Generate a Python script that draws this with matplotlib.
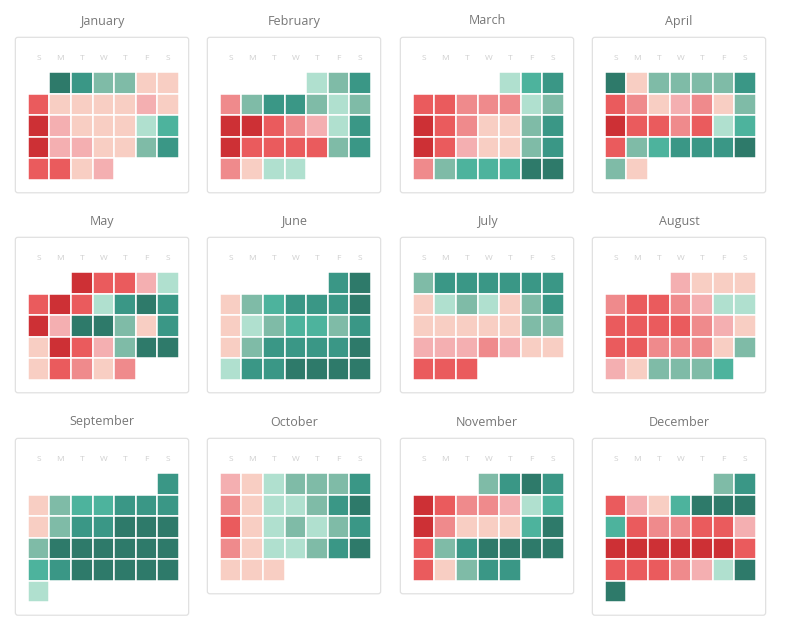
import matplotlib
matplotlib.use("Agg")
import matplotlib.pyplot as plt
from matplotlib.colors import ListedColormap, Normalize
from matplotlib.patches import Rectangle, FancyBboxPatch

plt.rcParams['font.family'] = ['Open Sans', 'DejaVu Sans']

months = ["January", "February", "March", "April", "May", "June",
          "July", "August", "September", "October", "November", "December"]
weekdays = ["S", "M", "T", "W", "T", "F", "S"]
# weekday of the 1st (0 = Sunday) as laid out in the chart
start_days = [1, 4, 4, 0, 2, 5, 0, 3, 6, 0, 3, 5]

# daily levels, 0 = worst (dark red) ... 9 = best (dark teal)
jan = [9, 8, 6, 6, 4, 4, 1, 4, 4, 4, 4, 3, 4, 0, 3, 4, 4, 4, 5, 7,
       0, 3, 3, 4, 4, 6, 8, 1, 1, 4, 3]
feb = [5, 6, 8, 2, 6, 8, 8, 6, 5, 6, 0, 0, 1, 2, 3, 5, 8,
       0, 1, 1, 1, 1, 6, 8, 2, 4, 5, 5]
mar = [5, 7, 8, 1, 1, 2, 2, 2, 5, 6, 0, 1, 2, 4, 4, 6, 8,
       0, 1, 3, 4, 4, 6, 8, 2, 6, 7, 7, 7, 9, 9]
apr = [9, 4, 6, 6, 6, 6, 8, 1, 2, 4, 3, 2, 4, 6, 0, 1, 1, 2, 1, 5, 7,
       1, 6, 7, 8, 8, 8, 9, 6, 4]
may = [0, 1, 1, 3, 5, 1, 0, 1, 5, 8, 9, 8, 0, 3, 9, 9, 6, 4, 8,
       4, 0, 1, 3, 6, 9, 9, 4, 1, 2, 4, 2]
jun = [8, 9, 4, 6, 7, 8, 8, 8, 9, 4, 5, 6, 7, 7, 6, 8,
       4, 6, 8, 8, 8, 8, 9, 5, 8, 8, 9, 9, 9, 9]
jul = [6, 8, 8, 8, 8, 8, 8, 4, 5, 6, 5, 4, 6, 8, 4, 4, 4, 4, 4, 6, 6,
       3, 3, 3, 2, 3, 4, 4, 1, 1, 1]
aug = [3, 4, 4, 4, 2, 1, 1, 2, 3, 5, 5, 1, 1, 1, 1, 2, 3, 4,
       1, 1, 2, 2, 2, 4, 6, 3, 4, 6, 6, 6, 7]
sep = [8, 4, 6, 7, 7, 8, 8, 8, 4, 6, 8, 8, 9, 9, 9, 6, 9, 9, 9, 9, 9, 9,
       7, 8, 9, 9, 9, 9, 9, 5]
oct_ = [3, 4, 5, 6, 6, 6, 8, 2, 4, 5, 5, 6, 8, 9, 1, 4, 5, 6, 5, 6, 8,
        2, 4, 5, 5, 6, 8, 9, 4, 4, 4]
nov = [6, 8, 9, 8, 0, 1, 2, 2, 3, 5, 7, 0, 2, 4, 4, 4, 7, 9,
       1, 6, 8, 9, 9, 9, 9, 1, 4, 6, 8, 8]
dec = [6, 8, 1, 3, 4, 7, 9, 9, 9, 7, 1, 2, 2, 1, 1, 3,
       0, 0, 0, 0, 0, 0, 1, 1, 1, 1, 2, 3, 5, 9, 9]
values = [jan, feb, mar, apr, may, jun, jul, aug, sep, oct_, nov, dec]

palette = ['#cd3035', '#ea5b5d', '#ef8a8c', '#f4afb1', '#f8cec3',
           '#b0e0cf', '#7fbba7', '#4db39d', '#3a9786', '#2e7a6a']
cmap = ListedColormap(palette)
norm = Normalize(vmin=-0.5, vmax=len(palette) - 0.5)

W, H = 800, 637
fig = plt.figure(figsize=(W / 100, H / 100), dpi=100)

col_left = [15, 207, 400, 592]   # px
row_top = [37, 237, 438]         # px
panel_w = 174
pitch = 21.5

for i, name in enumerate(months):
    days = values[i]
    start = start_days[i]
    n_rows = (start + len(days) - 1) // 7 + 1
    h = pitch * (n_rows + 2.26)
    left = col_left[i % 4]
    top = row_top[i // 4]
    ax = fig.add_axes([left / W, 1 - (top + h) / H, panel_w / W, h / H])
    ax.set_xlim(-0.6, 7.47)
    ax.set_ylim(n_rows + 0.63, -1.63)
    ax.set_xticks([])
    ax.set_yticks([])
    for s in ax.spines.values():
        s.set_visible(False)
    # rounded panel frame
    ax.add_patch(FancyBboxPatch((0.002, 0.002), 0.996, 0.996,
                                boxstyle="round,pad=0,rounding_size=0.015",
                                transform=ax.transAxes, facecolor='none',
                                edgecolor='#e1e1e1', linewidth=0.9,
                                clip_on=False))

    for d, v in enumerate(days):
        idx = start + d
        ax.add_patch(Rectangle((idx % 7, idx // 7), 1, 1,
                               facecolor=cmap(norm(v)), edgecolor='white',
                               linewidth=1.1))

    for k, wd in enumerate(weekdays):
        ax.text(k + 0.5, -0.65, wd, ha='center', va='center',
                fontsize=6, color='#cfcfcf')

    ax.set_title(name, pad=9, fontsize=9, color='#777777')

fig.savefig('out.png', dpi=100, facecolor='white')
